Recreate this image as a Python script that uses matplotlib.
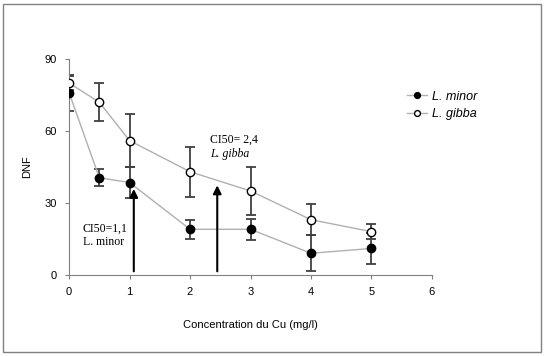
import matplotlib
matplotlib.use("Agg")
import matplotlib.pyplot as plt
from matplotlib.patches import Rectangle

conc = [0, 0.5, 1, 2, 3, 4, 5]
minor = [76, 40.5, 38.5, 19, 19, 9, 11]
minor_err = [7.5, 3.5, 6.5, 4, 4.5, 7.5, 6.5]
gibba = [80, 72, 56, 43, 35, 23, 18]
gibba_err = [3, 8, 11, 10.5, 10, 6.5, 3]

ci50_minor = 1.07
ci50_gibba = 2.45

plt.rcParams['font.family'] = ['Liberation Sans', 'DejaVu Sans']

fig = plt.figure(figsize=(5.44, 3.56), dpi=100)
ax = fig.add_axes([0.127, 0.228, 0.667, 0.606])

# outer gray frame
fig.patches.append(Rectangle((0.006, 0.01), 0.988, 0.98, transform=fig.transFigure,
                             fill=False, edgecolor='#808080', linewidth=1))

ax.errorbar(conc, minor, yerr=minor_err, fmt='none', ecolor='#404040',
            elinewidth=1.3, capsize=3.5, capthick=1.3, zorder=2)
ax.errorbar(conc, gibba, yerr=gibba_err, fmt='none', ecolor='#404040',
            elinewidth=1.3, capsize=3.5, capthick=1.3, zorder=2)
ax.plot(conc, minor, color='#b0b0b0', linewidth=1, marker='o', markersize=6,
        markerfacecolor='black', markeredgecolor='black', label='L. minor', zorder=3)
ax.plot(conc, gibba, color='#b0b0b0', linewidth=1, marker='o', markersize=6,
        markerfacecolor='white', markeredgecolor='black', label='L. gibba', zorder=3)

# CI50 arrows
ax.annotate('', xy=(ci50_minor, 37), xytext=(ci50_minor, 0.3),
            arrowprops=dict(arrowstyle='-|>', color='black', lw=1.5, mutation_scale=12))
ax.annotate('', xy=(ci50_gibba, 38.5), xytext=(ci50_gibba, 0.3),
            arrowprops=dict(arrowstyle='-|>', color='black', lw=1.5, mutation_scale=12))

ax.text(0.23, 18, 'CI50=1,1', fontsize=8.5, family=['Liberation Serif'])
ax.text(0.23, 12.5, 'L. minor', fontsize=8.5, family=['Liberation Serif'])
ax.text(2.33, 55, 'CI50= 2,4', fontsize=8.5, family=['Liberation Serif'])
ax.text(2.33, 49, 'L. gibba', fontsize=8.5, family=['Liberation Serif'], style='italic')

ax.set_xlim(0, 6)
ax.set_ylim(0, 90)
ax.set_xticks(range(7))
ax.set_yticks([0, 30, 60, 90])
ax.tick_params(labelsize=8, length=3, color='#808080', pad=6)
for s in ['top', 'right']:
    ax.spines[s].set_visible(False)
for s in ['left', 'bottom']:
    ax.spines[s].set_color('#808080')
ax.set_xlabel('Concentration du Cu (mg/l)', fontsize=8, labelpad=16)
ax.set_ylabel('DNF', fontsize=8, labelpad=9)

leg = ax.legend(loc='center left', bbox_to_anchor=(0.9, 0.785), frameon=False,
                handlelength=1.6, markerscale=0.7, handletextpad=0.4,
                labelspacing=0.45, prop={'style': 'italic', 'size': 9})

fig.savefig('out.png', dpi=100)
